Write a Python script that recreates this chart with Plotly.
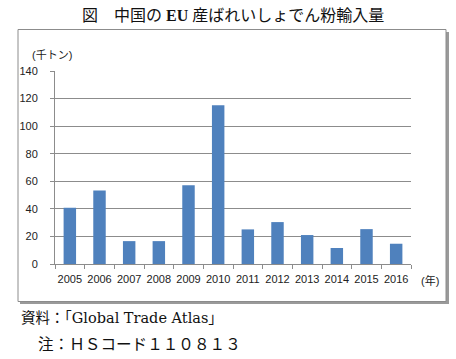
import plotly.graph_objects as go

years = ["2005", "2006", "2007", "2008", "2009", "2010", "2011", "2012", "2013", "2014", "2015", "2016"]
imports_kt = [40.8, 53.4, 16.6, 16.6, 57.2, 115.1, 25.1, 30.4, 21.0, 11.6, 25.3, 14.7]
y_ticks = [0, 20, 40, 60, 80, 100, 120, 140]

W, H = 456, 359
L, R, T, B = 55, 45, 71, 95
PW, PH = W - L - R, H - T - B


def px(x):
    return (x - L) / PW


def py(y):
    return (H - B - y) / PH


SERIF_JP = "Liberation Serif, Noto Sans CJK JP"
WIDE_SERIF_JP = "DejaVu Serif, Noto Sans CJK JP"
SANS = "Liberation Sans, Noto Sans CJK JP"

fig = go.Figure()
fig.add_trace(go.Bar(
    x=years, y=imports_kt,
    marker=dict(color="#4F81BD", line=dict(width=0)),
    width=0.42,
    hoverinfo="x+y",
))

shapes = [
    dict(type="rect", xref="paper", yref="paper", layer="below",
         x0=px(20), x1=px(449), y0=py(304), y1=py(32),
         fillcolor="#9a9a9a", line=dict(width=0)),
    dict(type="rect", xref="paper", yref="paper", layer="below",
         x0=px(18), x1=px(446), y0=py(301.5), y1=py(29.5),
         fillcolor="white", line=dict(color="#8c8c8c", width=1)),
]

annotations = [
    dict(text="図　中国の <b>EU</b> 産ばれいしょでん粉輸入量", xref="paper", yref="paper",
         x=px(233), y=py(15), xanchor="center", yanchor="middle", showarrow=False,
         font=dict(family=SERIF_JP, size=16, color="#111")),
    dict(text="(千トン)", xref="paper", yref="paper",
         x=px(30), y=py(55), xanchor="left", yanchor="middle", showarrow=False,
         font=dict(family=SANS, size=11, color="#222")),
    dict(text="(年)", xref="paper", yref="paper",
         x=px(419), y=py(280), xanchor="left", yanchor="middle", showarrow=False,
         font=dict(family=SANS, size=11, color="#222")),
    dict(text="資料：「Global Trade Atlas」", xref="paper", yref="paper",
         x=px(19), y=py(318), xanchor="left", yanchor="middle", showarrow=False,
         font=dict(family=WIDE_SERIF_JP, size=14.5, color="#111")),
    dict(text="注：ＨＳコード１１０８１３", xref="paper", yref="paper",
         x=px(36), y=py(344), xanchor="left", yanchor="middle", showarrow=False,
         font=dict(family=SERIF_JP, size=15.6, color="#111")),
]

fig.update_layout(
    width=W, height=H,
    margin=dict(l=L, r=R, t=T, b=B, pad=0),
    paper_bgcolor="white", plot_bgcolor="rgba(0,0,0,0)",
    showlegend=False,
    shapes=shapes,
    annotations=annotations,
    bargap=0.58,
    xaxis=dict(
        type="category", tickson="boundaries", ticks="outside", ticklen=4,
        tickcolor="#8c8c8c", showline=True, linecolor="#8c8c8c", linewidth=1,
        showgrid=False, tickfont=dict(family=SANS, size=11, color="#222"),
        tickangle=0, ticklabelstandoff=5, fixedrange=True,
    ),
    yaxis=dict(
        range=[0, 140], tickvals=y_ticks, ticks="outside", ticklen=4,
        tickcolor="#8c8c8c", showline=True, linecolor="#8c8c8c", linewidth=1,
        showgrid=True, gridcolor="#8c8c8c", gridwidth=1, zeroline=False,
        tickfont=dict(family=SANS, size=11, color="#222"),
        ticklabelstandoff=10, fixedrange=True,
    ),
)

fig.write_html("out.html", config={"displayModeBar": False})
